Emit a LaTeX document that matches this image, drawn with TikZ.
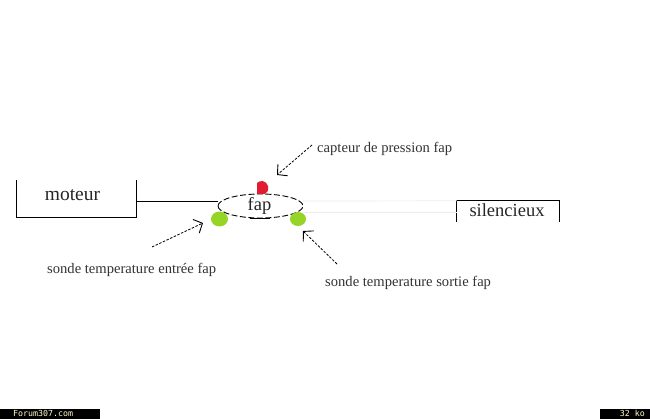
\documentclass[tikz,border=0pt]{standalone}
\usepackage{fontspec}
\setmainfont{Liberation Serif}
\newfontfamily\footfont{DejaVu Sans Mono}
\usetikzlibrary{arrows.meta,shapes.geometric}
\definecolor{blobgreen}{RGB}{150,212,40}
\definecolor{blobred}{RGB}{226,28,48}
\tikzset{
  lbl/.style={inner sep=0pt,font=\fontsize{14.6}{16}\selectfont,text=black!80},
  big/.style={inner sep=0pt,font=\fontsize{18.5}{20}\selectfont,text=black!85},
  boxarea/.style={inner sep=0pt,draw=none,minimum height=#1},
  wall/.style={line width=1pt,black},
  pointer/.style={line width=.8pt,black,dash pattern=on 2.5pt off 1.5pt,-{Straight Barb[length=7pt,width=15pt,line width=.9pt]}},
  footbar/.style={fill=black,inner sep=0pt,draw=none},
  foottext/.style={inner sep=0pt,font=\footfont\fontsize{8.3}{9}\selectfont,text=yellow!20!white},
  green blob/.style={fill=blobgreen,draw=none},
  faint/.style={line width=.7pt,black!7}
}
\begin{document}
\begin{tikzpicture}[x=1pt,y=-1pt]
\useasboundingbox (0,0) rectangle (650,419);
\fill[white] (0,0) rectangle (650,419);
% boxes
\node[boxarea=37pt,minimum width=119pt] (mot) at (76.5,198.5) {};
\node[big,font=\fontsize{19.5}{20}\selectfont] (motlbl) at (72.5,195.5) {moteur};
\node[boxarea=21pt,minimum width=102pt] (sil) at (508,211.5) {};
\node[big] (sillbl) at (507,210.5) {silencieux};
\draw[wall] (mot.north west) -- (mot.south west) -- (mot.south east) -- (mot.north east);
\draw[wall] (sil.south west) -- (sil.north west) -- (sil.north east) -- (sil.south east);
% fap
\node[ellipse,draw=none,minimum width=85pt,minimum height=24pt,inner sep=0pt] (fap) at (260.5,206) {};
\node[big] (faplbl) at (259.5,206) {fap};
\coordinate (motout) at (136.5,202);
\coordinate (fapin) at (fap.west |- motout);
\coordinate (fapout) at (fap.east |- 0,201);
\coordinate (silin) at (sil.north west);
\draw[faint] (fapout) -- (silin);
\draw[faint] (303,212) -- (457,212);
\draw[line width=1pt] (motout) -- (fapin);
\draw[line width=.9pt,dash pattern=on 6pt off 2.5pt] (fap.center) ++(-42.5,0) arc[start angle=180,end angle=-180,x radius=42.5,y radius=12];
\draw[line width=1pt] (250,218.5) -- (270,218.5);
% sensors
\fill[blobred] (257,183) .. controls (260,180) and (266,180) .. (268,186) .. controls (269,190) and (267,193) .. (265,194) -- (257,194) -- cycle;
\node[green blob,ellipse,minimum width=17pt,minimum height=15pt,inner sep=0pt] (sin) at (219.5,219) {};
\node[green blob,ellipse,minimum width=16pt,minimum height=14pt,inner sep=0pt] (sout) at (298,219) {};
% labels
\node[lbl,anchor=west] (cap) at (317,149) {capteur de pression fap};
\node[lbl,anchor=west] (ent) at (47,270) {sonde temperature entrée fap};
\node[lbl,anchor=west] (sor) at (325,283) {sonde temperature sortie fap};
\coordinate (capfrom) at (312,145);
\coordinate (capto) at (277,175);
\coordinate (entfrom) at (152,247);
\coordinate (entto) at (203,223);
\coordinate (sorfrom) at (337,264);
\coordinate (sorto) at (303,231);
\draw[pointer] (capfrom) -- (capto);
\draw[pointer] (entfrom) -- (entto);
\draw[pointer] (sorfrom) -- (sorto);
% footer
\node[footbar,minimum width=100pt,minimum height=10pt,anchor=south west] (fl) at (0,419) {};
\node[footbar,minimum width=50pt,minimum height=10pt,anchor=south east] (fr) at (650,419) {};
\node[foottext,anchor=west] at (13,413.5) {Forum307.com};
\node[foottext,anchor=east] at (645,413.5) {32 ko};
\end{tikzpicture}
\end{document}
